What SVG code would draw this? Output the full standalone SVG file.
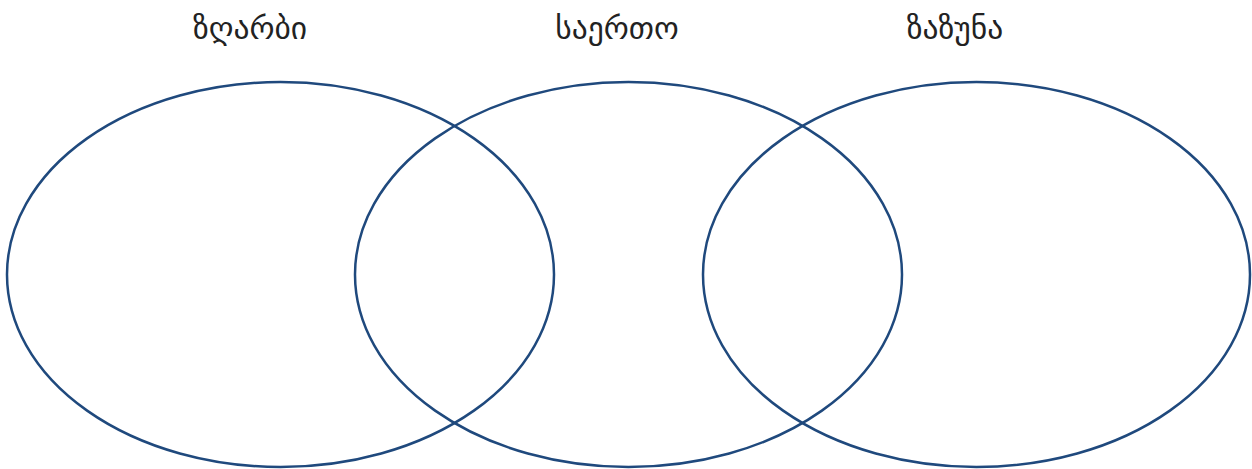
<svg xmlns="http://www.w3.org/2000/svg" width="1252" height="469" viewBox="0 0 1252 469">
<style>
.c{fill:none;stroke:#1f497d;stroke-width:2.5}
.t{font-family:"DejaVu Sans","Noto Sans",sans-serif;font-size:31.5px;fill:#222;text-anchor:middle}
</style>
<rect width="1252" height="469" fill="#fff"/>
<g id="hedgehog">
<ellipse class="c" cx="280.5" cy="274.5" rx="273.5" ry="192.5"/>
<text class="t" x="250" y="39">ზღარბი</text>
</g>
<g id="common">
<ellipse class="c" cx="628.5" cy="274.5" rx="273.5" ry="192.5"/>
<text class="t" x="617" y="39">საერთო</text>
</g>
<g id="hamster">
<ellipse class="c" cx="976.5" cy="274.5" rx="273.5" ry="192.5"/>
<text class="t" x="955" y="39">ზაზუნა</text>
</g>
<g id="connectors"/>
</svg>
